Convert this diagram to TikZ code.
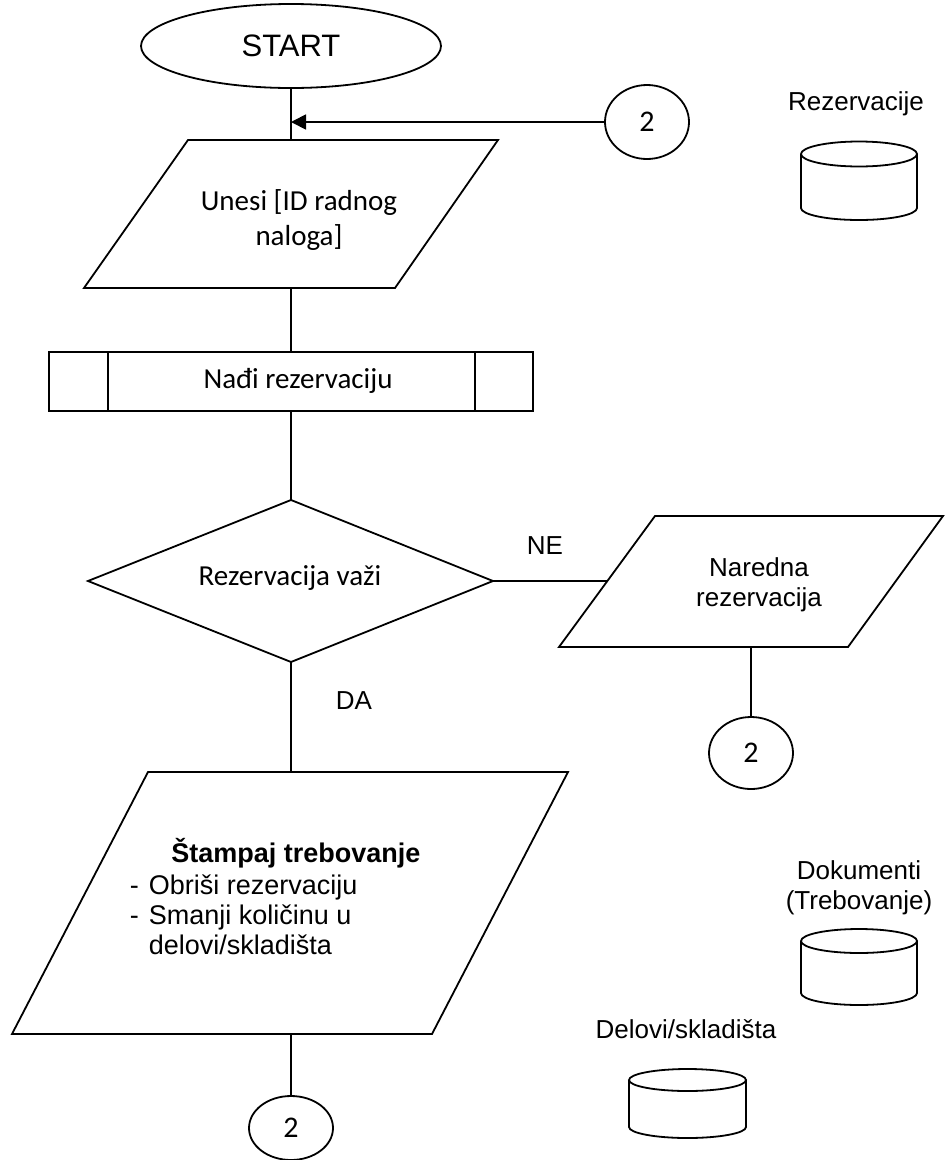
\documentclass[tikz,border=0pt]{standalone}
\usepackage{fontspec}
\setmainfont{Liberation Sans}
\newfontfamily\calibri{Carlito}
\usetikzlibrary{shapes.geometric,arrows.meta}
\begin{document}
\begin{tikzpicture}[x=1pt,y=-1pt,
  line width=1.8pt,
  every node/.style={inner sep=0pt},
  ar/.style={font=\fontsize{26}{30}\selectfont},
  arl/.style={font=\fontsize{27}{30}\selectfont},
  arb/.style={font=\bfseries\fontsize{27}{30}\selectfont},
  cb/.style={font=\calibri\fontsize{29}{35}\selectfont},
  term/.style={draw,ellipse,minimum width=300pt,minimum height=84pt,font=\fontsize{31}{34}\selectfont},
  conn/.style={draw,ellipse,minimum width=84pt,minimum height=74pt,font=\calibri\fontsize{30}{35}\selectfont},
  arrowline/.style={-{Triangle[length=15pt,width=15pt]}},
]
\useasboundingbox (0,0) rectangle (946,1160);

% terminal and top connector
\node[term] (start) at (291,46) {START};
\node[conn] (c1) at (647,122) {\raisebox{-7pt}{2}};
\coordinate (j1) at (291,122);

% input parallelogram
\coordinate (u1) at (188,140);
\coordinate (u2) at (498,140);
\coordinate (u3) at (395,288);
\coordinate (u4) at (84,288);
\draw (u1) -- (u2) -- (u3) -- (u4) -- cycle;
\coordinate (utop) at (291,140);
\coordinate (ubot) at (291,288);
\node[cb,align=center] (unesi) at (299,220) {Unesi [ID radnog\\naloga]};

% predefined process
\node[draw,rectangle,minimum width=484pt,minimum height=59pt] (nadji) at (291,381.5) {};
\draw ([xshift=60pt]nadji.north west) -- ([xshift=60pt]nadji.south west);
\draw ([xshift=-59pt]nadji.north east) -- ([xshift=-59pt]nadji.south east);
\node[cb] (nadjit) at (298,381) {Nađi rezervaciju};

% decision
\coordinate (dt) at (291,500);
\coordinate (dl) at (88,581);
\coordinate (dr) at (493,581);
\coordinate (db) at (291,662);
\draw (dt) -- (dr) -- (db) -- (dl) -- cycle;
\node[cb] (rez) at (290,578) {Rezervacija važi};

% next reservation
\coordinate (n1) at (655,516);
\coordinate (n2) at (943,516);
\coordinate (n3) at (848,647);
\coordinate (n4) at (559,647);
\draw (n1) -- (n2) -- (n3) -- (n4) -- cycle;
\coordinate (nleft) at (607,581);
\coordinate (nbot) at (751,647);
\node[ar,align=center] (nar) at (759,585) {Naredna\\rezervacija};
\node[conn,minimum height=72pt] (c2) at (751,753) {\raisebox{-5pt}{2}};

\node[ar] (ne) at (545,546) {NE};
\node[ar] (da) at (354,701) {DA};

% print parallelogram
\coordinate (b1) at (148,772);
\coordinate (b2) at (568,772);
\coordinate (b3) at (432,1034);
\coordinate (b4) at (12,1034);
\draw (b1) -- (b2) -- (b3) -- (b4) -- cycle;
\coordinate (btop) at (291,772);
\coordinate (bbot) at (291,1034);
\node[arb,anchor=base] (st) at (296,862) {Štampaj trebovanje};
\node[arl,anchor=base west] (l1) at (129,894) {\makebox[19pt][l]{-}Obriši rezervaciju};
\node[arl,anchor=base west] (l2) at (129,924) {\makebox[19pt][l]{-}Smanji količinu u};
\node[arl,anchor=base west] (l3) at (148,954) {delovi/skladišta};
\node[conn,minimum height=64pt] (c3) at (291,1128) {\raisebox{-4pt}{2}};

% connectors
\draw (start.south) -- (utop);
\draw[arrowline] (c1.west) -- (j1);
\draw (ubot) -- (nadji.north);
\draw (nadji.south) -- (dt);
\draw (dr) -- (nleft);
\draw (nbot) -- (c2.north);
\draw (db) -- (btop);
\draw (bbot) -- (c3.north);

% data stores
\node[ar] (rzl) at (856,104) {Rezervacije};
\draw (859,154) ellipse [x radius=58pt, y radius=12.5pt];
\draw (801,154) -- (801,208) arc[start angle=180,end angle=360,x radius=58pt,y radius=12pt] -- (917,154);

\node[ar,align=center] (dokl) at (859,888) {Dokumenti\\(Trebovanje)};
\draw (859,941) ellipse [x radius=58pt, y radius=12pt];
\draw (801,941) -- (801,993) arc[start angle=180,end angle=360,x radius=58pt,y radius=12pt] -- (917,941);

\node[ar] (dell) at (686,1029) {Delovi/skladišta};
\draw (687.5,1080) ellipse [x radius=58.5pt, y radius=11pt];
\draw (629,1080) -- (629,1127) arc[start angle=180,end angle=360,x radius=58.5pt,y radius=11pt] -- (746,1080);
\end{tikzpicture}
\end{document}
